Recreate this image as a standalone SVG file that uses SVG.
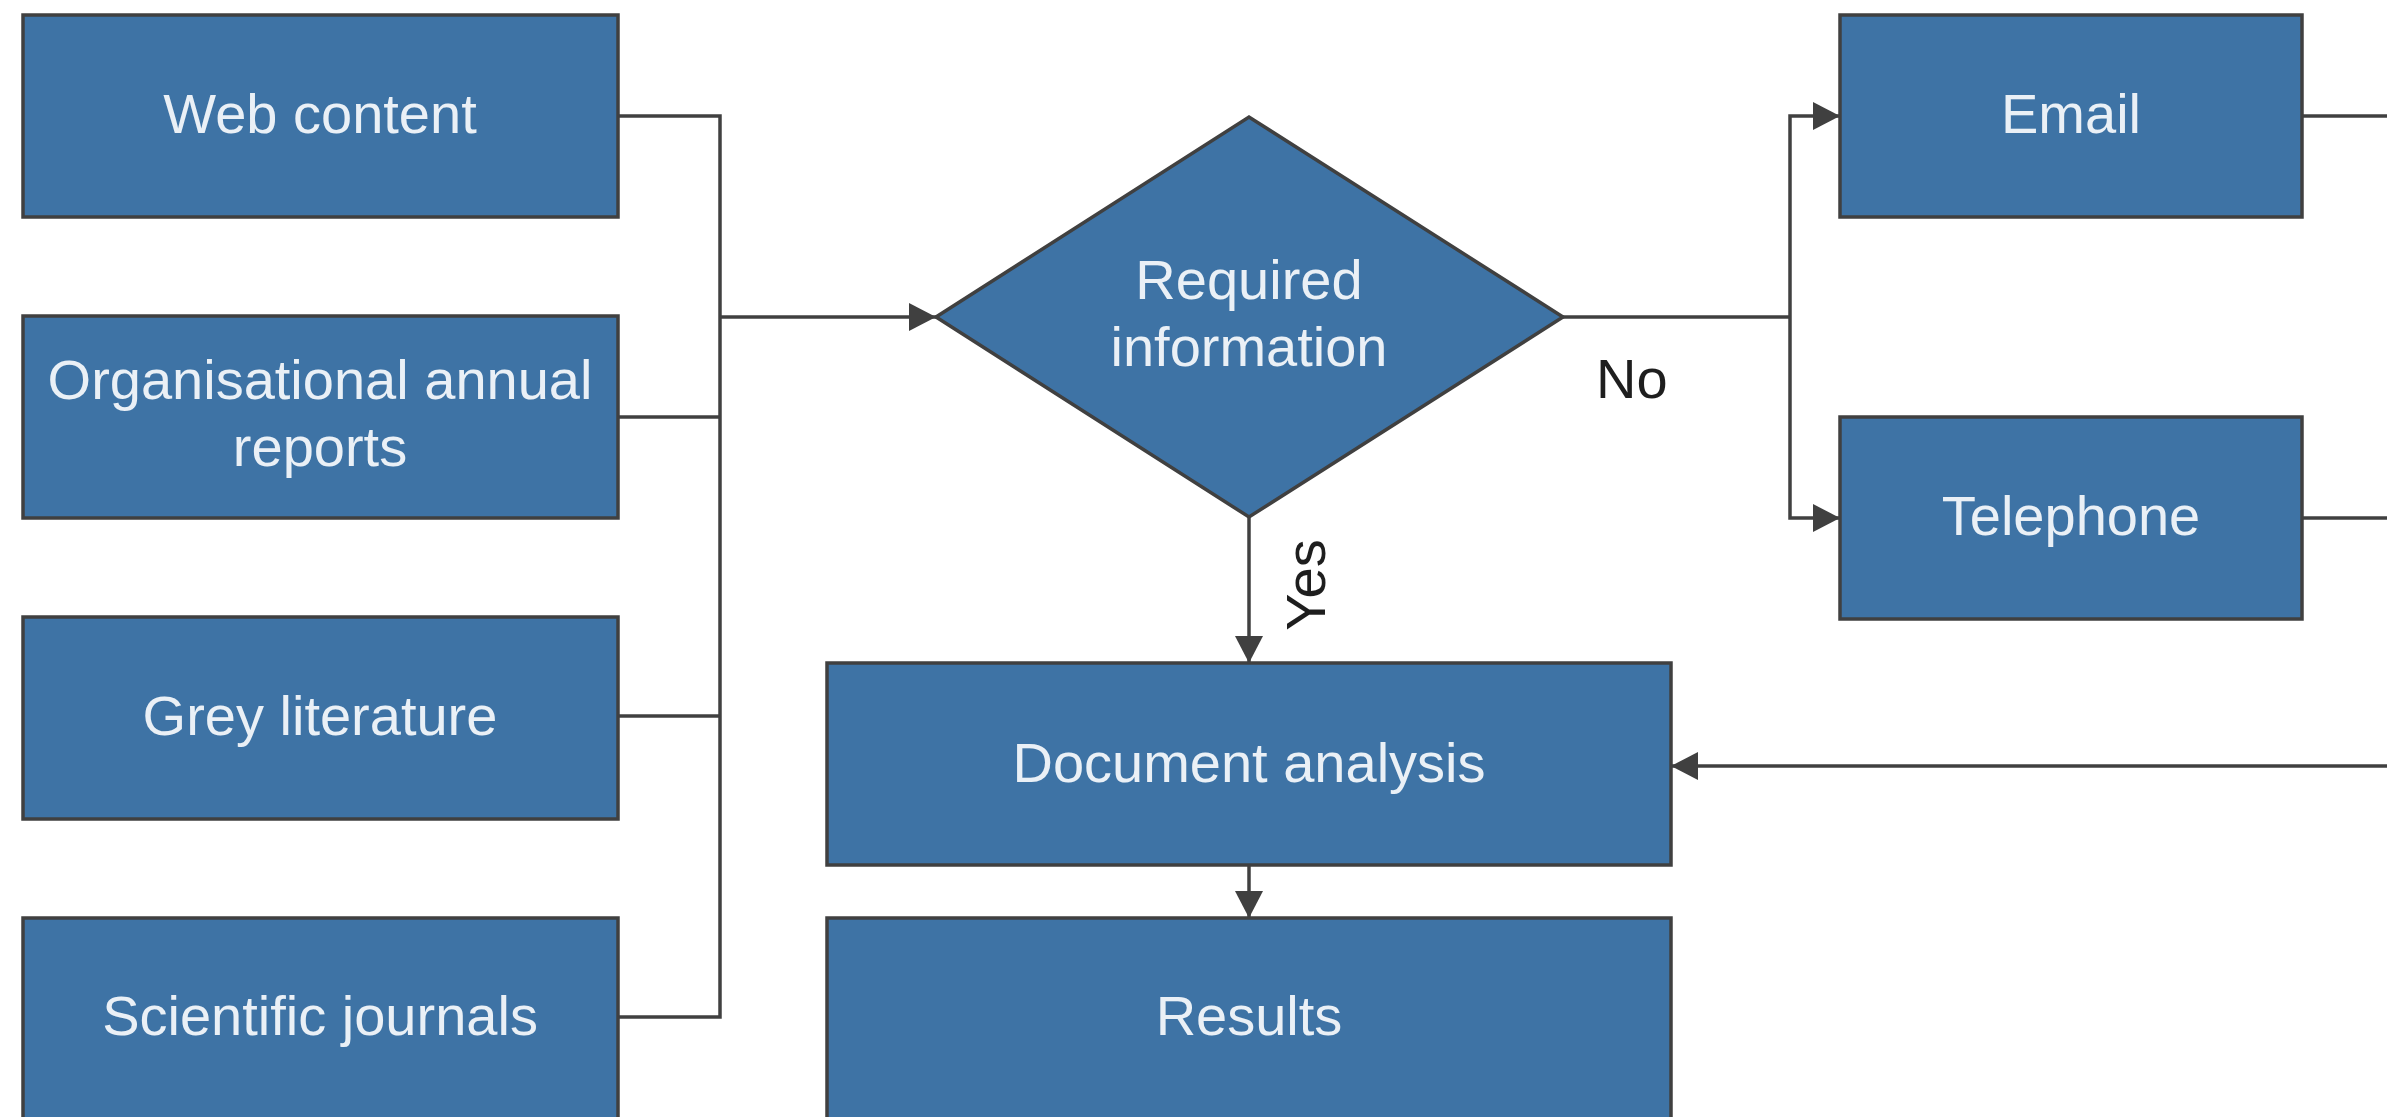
<svg xmlns="http://www.w3.org/2000/svg" width="2387" height="1117" viewBox="0 0 2387 1117">
  <style>
    .box { fill: #3e73a5; stroke: #404040; stroke-width: 3.5; }
    .lbl { font-family: "Liberation Sans", Arial, sans-serif; font-size: 56px; fill: #eaf0f6; text-anchor: middle; }
    .edge { fill: none; stroke: #404040; stroke-width: 3.5; }
    .elbl { font-family: "Liberation Sans", Arial, sans-serif; font-size: 56px; fill: #1e1e1e; }
  </style>
  <defs>
    <marker id="arrow" markerUnits="userSpaceOnUse" markerWidth="30" markerHeight="30" refX="27" refY="14" orient="auto">
      <path d="M0,0 L27,14 L0,28 z" fill="#404040"/>
    </marker>
  </defs>
  <rect width="2387" height="1117" fill="#ffffff"/>

  <!-- connectors -->
  <g id="connectors">
    <!-- sources merge into the decision -->
    <path class="edge" d="M618,116 H720 V1017 H618"/>
    <path class="edge" d="M618,417 H720"/>
    <path class="edge" d="M618,716 H720"/>
    <path class="edge" d="M720,317 H936" marker-end="url(#arrow)"/>
    <!-- No branch -->
    <path class="edge" d="M1563,317 H1790"/>
    <path class="edge" d="M1790,317 V116 H1840" marker-end="url(#arrow)"/>
    <path class="edge" d="M1790,317 V518 H1840" marker-end="url(#arrow)"/>
    <text class="elbl" x="1596" y="398">No</text>
    <!-- Yes branch -->
    <path class="edge" d="M1249,517 V663" marker-end="url(#arrow)"/>
    <text class="elbl" text-anchor="middle" transform="translate(1325,585) rotate(-90)">Yes</text>
    <!-- returns from contact channels -->
    <path class="edge" d="M2302,116 H2387"/>
    <path class="edge" d="M2302,518 H2387"/>
    <path class="edge" d="M2387,766 H1671" marker-end="url(#arrow)"/>
    <!-- analysis to results -->
    <path class="edge" d="M1249,865 V918" marker-end="url(#arrow)"/>
  </g>

  <g id="web-content">
    <rect class="box" x="23" y="15" width="595" height="202"/>
    <text class="lbl" x="320" y="133">Web content</text>
  </g>
  <g id="annual-reports">
    <rect class="box" x="23" y="316" width="595" height="202"/>
    <text class="lbl" x="320" y="399">Organisational annual</text>
    <text class="lbl" x="320" y="466">reports</text>
  </g>
  <g id="grey-literature">
    <rect class="box" x="23" y="617" width="595" height="202"/>
    <text class="lbl" x="320" y="735">Grey literature</text>
  </g>
  <g id="scientific-journals">
    <rect class="box" x="23" y="918" width="595" height="202"/>
    <text class="lbl" x="320" y="1035">Scientific journals</text>
  </g>

  <g id="required-information">
    <polygon class="box" points="936,317 1249,117 1563,317 1249,517"/>
    <text class="lbl" x="1249" y="299">Required</text>
    <text class="lbl" x="1249" y="366">information</text>
  </g>

  <g id="email">
    <rect class="box" x="1840" y="15" width="462" height="202"/>
    <text class="lbl" x="2071" y="133">Email</text>
  </g>
  <g id="telephone">
    <rect class="box" x="1840" y="417" width="462" height="202"/>
    <text class="lbl" x="2071" y="535">Telephone</text>
  </g>

  <g id="document-analysis">
    <rect class="box" x="827" y="663" width="844" height="202"/>
    <text class="lbl" x="1249" y="782">Document analysis</text>
  </g>
  <g id="results">
    <rect class="box" x="827" y="918" width="844" height="202"/>
    <text class="lbl" x="1249" y="1035">Results</text>
  </g>
</svg>
